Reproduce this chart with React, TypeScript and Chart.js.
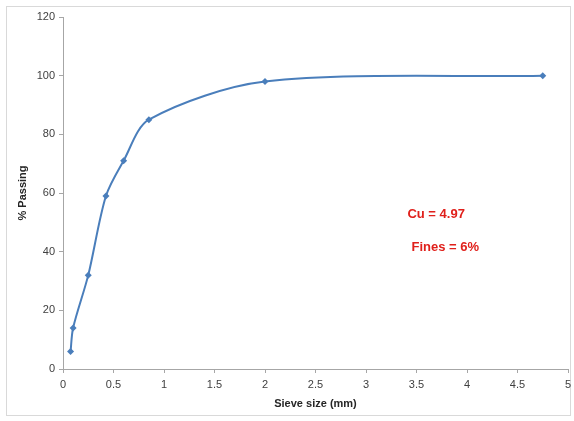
import React, { useEffect, useRef } from "react";
import { Chart, registerables } from "chart.js";

Chart.register(...registerables);

// Grain size distribution: sieve opening (mm) vs percent passing
const sieveSizes = [0.075, 0.1, 0.25, 0.425, 0.6, 0.85, 2.0, 4.75];
const percentPassing = [6, 14, 32, 59, 71, 85, 98, 100];
const notes = ["Cu = 4.97", "Fines = 6%"];

const LINE_BLUE = "#4a7ebb";
const FONT = "'Liberation Sans', Arial, sans-serif";

const framePlugin = {
  id: "frame",
  beforeDraw(chart: any) {
    const ctx = chart.ctx;
    ctx.save();
    ctx.fillStyle = "#ffffff";
    ctx.fillRect(0, 0, chart.width, chart.height);
    ctx.strokeStyle = "#d9d9d9";
    ctx.lineWidth = 1;
    ctx.strokeRect(6.5, 6.5, 564, 409);
    ctx.restore();
  },
};

const notesPlugin = {
  id: "notes",
  afterDatasetsDraw(chart: any) {
    const ctx = chart.ctx;
    const xs = chart.scales.x;
    const ys = chart.scales.y;
    ctx.save();
    ctx.fillStyle = "#e0201b";
    ctx.font = `bold 13px ${FONT}`;
    ctx.textBaseline = "middle";
    ctx.textAlign = "left";
    ctx.fillText(notes[0], xs.getPixelForValue(3.41), ys.getPixelForValue(52.8));
    ctx.fillText(notes[1], xs.getPixelForValue(3.45), ys.getPixelForValue(41.5));
    ctx.restore();
  },
};

export default function App() {
  const ref = useRef<HTMLCanvasElement>(null);

  useEffect(() => {
    if (!ref.current) return;
    const chart = new Chart(ref.current, {
      type: "scatter",
      data: {
        datasets: [
          {
            data: sieveSizes.map((x, i) => ({ x, y: percentPassing[i] })),
            showLine: true,
            borderColor: LINE_BLUE,
            backgroundColor: LINE_BLUE,
            borderWidth: 2,
            tension: 0.3,
            pointStyle: "rectRot",
            pointRadius: 3.5,
            pointBorderWidth: 0,
          },
        ],
      },
      plugins: [framePlugin, notesPlugin],
      options: {
        animation: false,
        responsive: false,
        layout: { padding: { left: 16, right: 6, top: 17, bottom: 10 } },
        plugins: { legend: { display: false }, tooltip: { enabled: false } },
        scales: {
          x: {
            type: "linear",
            min: 0,
            max: 5,
            ticks: {
              stepSize: 0.5,
              color: "#404040",
              font: { family: FONT, size: 11 },
              padding: 5,
              callback: (v: any) => String(+v),
            },
            grid: { drawOnChartArea: false, tickLength: 4, color: "#a6a6a6" },
            border: { color: "#a6a6a6" },
            title: {
              display: true,
              text: "Sieve size (mm)",
              color: "#262626",
              font: { family: FONT, size: 11, weight: "bold" },
              padding: { top: 2, bottom: 0 },
            },
            afterFit(scale: any) {
              scale.height = 42;
              scale.paddingRight = 0;
              scale.paddingLeft = 0;
            },
          },
          y: {
            min: 0,
            max: 120,
            ticks: {
              stepSize: 20,
              color: "#404040",
              font: { family: FONT, size: 11 },
              padding: 4,
            },
            grid: { drawOnChartArea: false, tickLength: 4, color: "#a6a6a6" },
            border: { color: "#a6a6a6" },
            title: {
              display: true,
              text: "% Passing",
              color: "#262626",
              font: { family: FONT, size: 11, weight: "bold" },
              padding: { top: 0, bottom: 0 },
            },
            afterFit(scale: any) {
              scale.width = 47;
              scale.paddingTop = 0;
              scale.paddingBottom = 0;
            },
          },
        },
      },
    } as any);
    return () => chart.destroy();
  }, []);

  return (
    <div style={{ position: "absolute", left: 0, top: 0, width: 574, height: 421 }}>
      <canvas ref={ref} width={574} height={421} />
    </div>
  );
}
